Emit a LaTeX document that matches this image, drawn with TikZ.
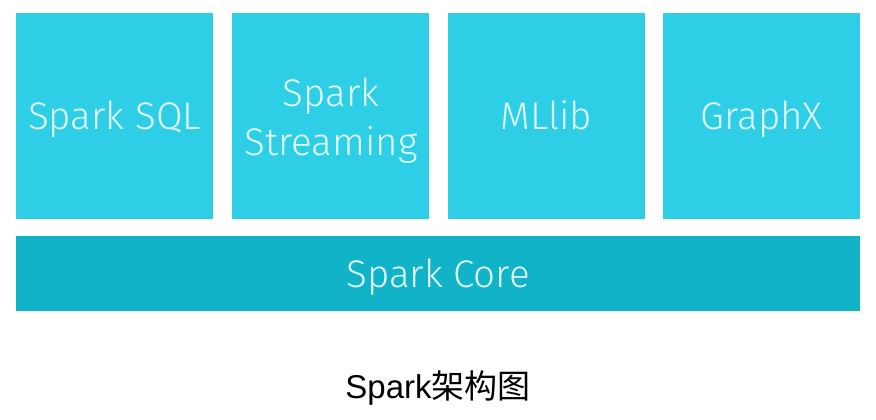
\documentclass[tikz,border=0pt]{standalone}
\usepackage{fontspec}
\setsansfont{Fira Sans Light}
\newfontfamily\cjk{Noto Sans CJK SC}
\newfontfamily\capfont{Liberation Sans}
\usepackage{tikz}
\usetikzlibrary{positioning}
\definecolor{modcyan}{HTML}{2ECFE6}
\definecolor{corecyan}{HTML}{10B3C7}
\definecolor{modtext}{HTML}{E2FAFF}
\tikzstyle{module} = [rectangle,fill=modcyan,inner sep=0pt,minimum width=197pt,minimum height=206pt,text=modtext,font=\sffamily\fontsize{38.5}{48.5}\selectfont,align=center,text height=31.5pt,text depth=4.5pt]
\tikzstyle{core} = [rectangle,fill=corecyan,inner sep=0pt,minimum width=844pt,minimum height=75pt,text=modtext,font=\sffamily\fontsize{38.5}{44}\selectfont,text height=31.5pt,text depth=4.5pt]

\begin{document}
\begin{tikzpicture}[x=1pt,y=-1pt,node distance=18pt]
\useasboundingbox (0,0) rectangle (876,420);

\node[module] (SQL) at (114.5,116) {Spark SQL};
\node[module, text height=82.5pt] (Streaming) [right=19pt of SQL] {Spark\\Streaming};
\node[module] (MLlib) [right=of Streaming] {MLlib};
\node[module] (GraphX) [right=of MLlib] {GraphX};

\node[core] (Core) at (438,273.5) {Spark Core};

\node (Caption) at (438,388) {\capfont\fontsize{33}{38}\selectfont Spark{\cjk 架构图}};

\end{tikzpicture}
\end{document}
